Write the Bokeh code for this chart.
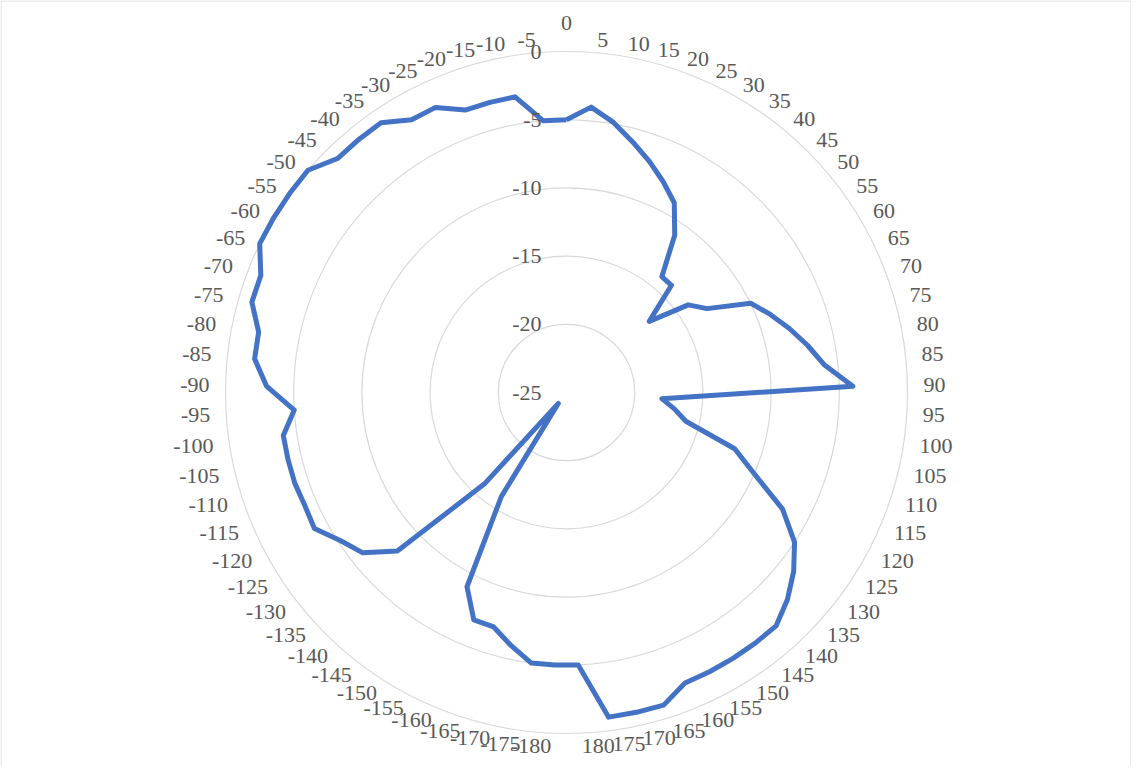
import numpy as np
from bokeh.plotting import figure
from bokeh.models import Range1d, ColumnDataSource, Span
from bokeh.core.properties import value
from bokeh.embed import file_html
from bokeh.resources import INLINE

# Categories clockwise from top
categories = [str(a) for a in range(0, 185, 5)] + [str(a) for a in range(-180, 0, 5)]

# Series values (dB)
values = [
    -5, -4, -4.9, -6, -7, -8, -9, -11, -14, -14,
    -17, -14, -13, -10, -9, -8, -7, -6, -4, -18,
    -17, -16, -12, -10, -7, -5, -3.8, -2.8, -2, -2,
    -2, -2, -2, -1, -1, -1, -5, -5, -5, -6,
    -7, -7, -9, -16, -24, -16, -8, -6, -5.2, -4,
    -4.1, -4, -4, -4, -5, -3, -2, -2, -1, -1,
    0, 0, 0, 0, -1, -1, -1, -2, -2, -3,
    -3, -3, -5,
]

# Radial axis
r_min, r_max = -25, 0
r_ticks = [0, -5, -10, -15, -20, -25]

W, H = 1131, 766
CX, CY = 566, 392          # centre of the radar in figure pixels
R = 341                    # radius of the outer ring

FONT = "Liberation Serif"
TXT = "#595959"
GRID = "#d9d9d9"
LINE = "#4472C4"

p = figure(width=W, height=H, output_backend="svg", toolbar_location=None,
           x_range=Range1d(-CX, W - CX), y_range=Range1d(-(H - CY), CY),
           min_border=0, background_fill_color="white", border_fill_color="white")
p.axis.visible = False
p.grid.visible = False
p.outline_line_color = None

# chart-area border (bottom edge lies outside the window in the original)
for loc, dim in [(-CX + 0.5, "height"), (W - CX - 0.5, "height"), (CY - 0.5, "width")]:
    p.add_layout(Span(location=loc, dimension=dim, line_color=GRID, line_width=1))

def rad(v):
    return (np.asarray(v, dtype=float) - r_min) / (r_max - r_min) * R

N = len(categories)
theta = 2 * np.pi * np.arange(N) / N

# Rings
ring_r = rad([t for t in r_ticks if t != r_min])
p.circle(x=np.zeros(len(ring_r)), y=np.zeros(len(ring_r)), radius=ring_r,
         fill_color=None, line_color=GRID, line_width=1.2)

# Data polygon (closed)
rv = rad(values)
xs = list(rv * np.sin(theta)) + [rv[0] * np.sin(theta[0])]
ys = list(rv * np.cos(theta)) + [rv[0] * np.cos(theta[0])]
p.line(xs, ys, line_color=LINE, line_width=5, line_join="round")

# Radial axis labels
tr = rad(r_ticks)
p.text(x=[-25] * len(r_ticks), y=list(tr), text=[str(t) for t in r_ticks],
       text_align="right", text_baseline="middle", text_color=TXT,
       text_font=value(FONT), text_font_size="22px")

# Category labels
lx = (R + 16) * np.sin(theta)
ly = (R + 13) * np.cos(theta)
groups = {"top": [], "right": [], "left": []}
for i in range(N):
    s = np.sin(theta[i])
    if abs(s) < 1e-6:
        groups["top"].append(i)
    elif s > 0:
        groups["right"].append(i)
    else:
        groups["left"].append(i)

def add_labels(idx, align, ys_):
    if not idx:
        return
    src = ColumnDataSource(dict(x=[lx[i] for i in idx], y=[ys_[i] for i in idx],
                                t=[categories[i] for i in idx]))
    p.text(x="x", y="y", text="t", source=src, text_align=align,
           text_baseline="middle", text_color=TXT, text_font=value(FONT),
           text_font_size="22px")

top_y = (R + 29) * np.cos(theta)
add_labels(groups["top"], "center", top_y)
add_labels(groups["right"], "left", ly)
add_labels(groups["left"], "right", ly)

open("out.html", "w").write(file_html(p, INLINE))
